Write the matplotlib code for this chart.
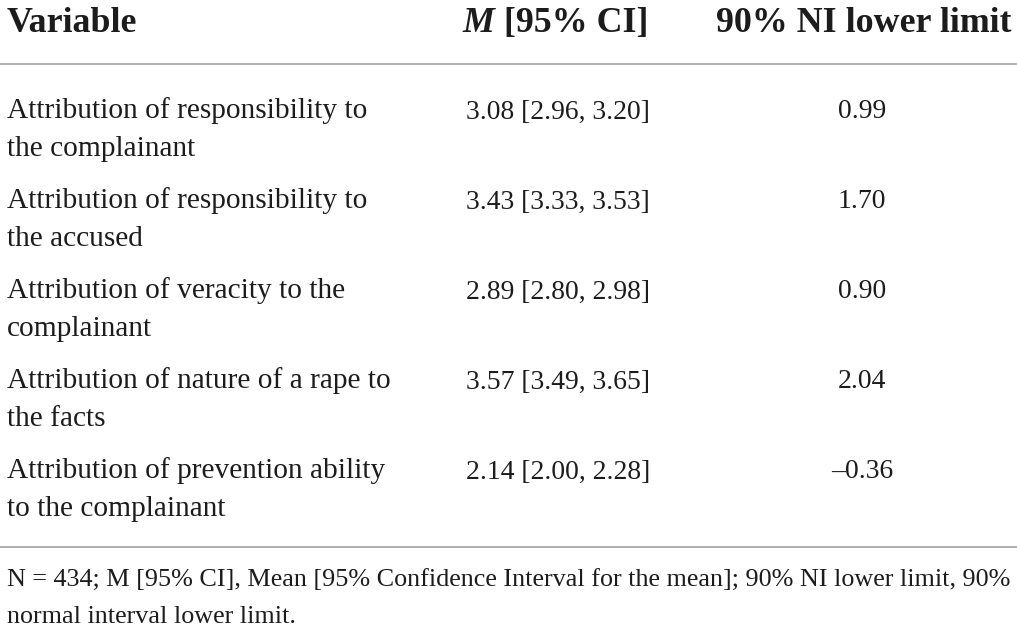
import matplotlib
matplotlib.use("Agg")
import matplotlib.pyplot as plt

# ---- data ----
variables = [
    "Attribution of responsibility to\nthe complainant",
    "Attribution of responsibility to\nthe accused",
    "Attribution of veracity to the\ncomplainant",
    "Attribution of nature of a rape to\nthe facts",
    "Attribution of prevention ability\nto the complainant",
]
means = [3.08, 3.43, 2.89, 3.57, 2.14]
ci_low = [2.96, 3.33, 2.80, 3.49, 2.00]
ci_high = [3.20, 3.53, 2.98, 3.65, 2.28]
ni_lower = [0.99, 1.70, 0.90, 2.04, -0.36]
headers = ["Variable", "M", " [95% CI]", "90% NI lower limit"]
footnote = ["N = 434; M [95% CI], Mean [95% Confidence Interval for the mean]; 90% NI lower limit, 90%",
            "normal interval lower limit."]

W, H = 1017, 631
fig = plt.figure(figsize=(W / 100, H / 100), dpi=100)
ax = fig.add_axes([0, 0, 1, 1])
ax.set_xlim(0, W)
ax.set_ylim(H, 0)
ax.axis("off")

FONT = "Liberation Serif"
TXT = "#1c1c1c"
fig.canvas.draw()
renderer = fig.canvas.get_renderer()


def fit_size(s, target_px, **kw):
    t = ax.text(0, 0, s, fontsize=20, family=FONT, **kw)
    w = t.get_window_extent(renderer).width
    t.remove()
    return 20 * target_px / w


body_fs = fit_size("Attribution of responsibility to", 359)
val_fs = fit_size("3.08 [2.96, 3.20]", 184)
head_fs = fit_size("90% NI lower limit", 295, weight="bold")
foot_fs = fit_size(footnote[0], 1005)

# header
hy = 32
ax.text(7, hy, headers[0], fontsize=head_fs, family=FONT, weight="bold", color=TXT, va="baseline", ha="left")
t2 = ax.text(648, hy, headers[2], fontsize=head_fs, family=FONT, weight="bold", color=TXT, va="baseline", ha="right")
w2 = t2.get_window_extent(renderer).width
ax.text(648 - w2, hy, headers[1], fontsize=head_fs, family=FONT, weight="bold", style="italic",
        color=TXT, va="baseline", ha="right")
ax.text(864, hy, headers[3], fontsize=head_fs, family=FONT, weight="bold", color=TXT, va="baseline", ha="center")

# rules
ax.plot([0, W], [64, 64], color="#9a9a9a", lw=1.1, solid_capstyle="butt")
ax.plot([0, W], [546.5, 546.5], color="#9a9a9a", lw=1.1, solid_capstyle="butt")

# rows
row_base = 118.5
row_step = 90
line_gap = 38
for i, (v, m, lo, hi, ni) in enumerate(zip(variables, means, ci_low, ci_high, ni_lower)):
    yb = row_base + i * row_step
    for j, line in enumerate(v.split("\n")):
        ax.text(7, yb + j * line_gap, line, fontsize=body_fs, family=FONT, color=TXT, va="baseline", ha="left")
    ax.text(466, yb, f"{m:.2f} [{lo:.2f}, {hi:.2f}]", fontsize=val_fs, family=FONT, color=TXT,
            va="baseline", ha="left")
    ni_s = f"{ni:.2f}".replace("-", "\u2013")
    ax.text(862, yb, ni_s, fontsize=val_fs, family=FONT, color=TXT, va="baseline", ha="center")

# footnote
for k, line in enumerate(footnote):
    ax.text(7, 587 + k * 36, line, fontsize=foot_fs, family=FONT, color=TXT, va="baseline", ha="left")

fig.savefig("out.png", dpi=100, facecolor="white")
